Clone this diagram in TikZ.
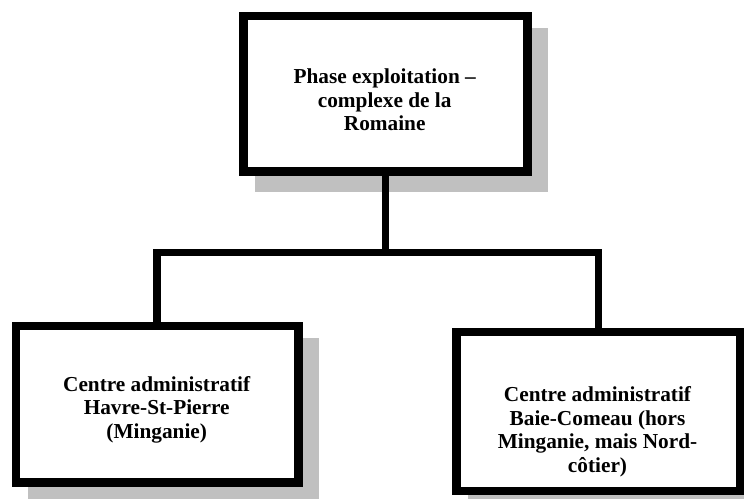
\documentclass[tikz,border=0pt]{standalone}
\usepackage{fontspec}
\setmainfont{Liberation Serif}
\usetikzlibrary{shadows}
\definecolor{shadowgray}{RGB}{192,192,192}
\tikzset{
  orgbox/.style={rectangle, draw=black, fill=white, line width=8.5pt, inner sep=0pt,
    general shadow={draw=shadowgray, fill=shadowgray, opacity=1,
      shadow xshift=16pt, shadow yshift=-16pt}},
  boxtext/.style={align=center, inner sep=0pt,
    font=\fontsize{21.3}{23.5}\selectfont\bfseries},
  link/.style={draw=black, line width=7.5pt, line join=miter},
}
\begin{document}
\begin{tikzpicture}[x=1pt, y=-1pt]
\useasboundingbox (0,0) rectangle (744,498);
\clip (0,0) rectangle (744,498);

% boxes
\node[orgbox, minimum width=284.2pt, minimum height=155.5pt] (top) at (385.4,93.7) {};
\node[orgbox, minimum width=282.5pt, minimum height=156.5pt] (left) at (157.2,404.2) {};
\node[orgbox, minimum width=283.9pt, minimum height=158.8pt] (right) at (598.5,411.4) {};

% box texts
\node[boxtext] (topText) at (384.7,99.8) {Phase exploitation –\\complexe de la\\Romaine};
\node[boxtext] (leftText) at (156.7,409.8) {Centre administratif\\Havre-St-Pierre\\(Minganie)};
\node[boxtext] (rightText) at (597.5,431.8) {Centre administratif\\Baie-Comeau (hors\\Minganie, mais Nord-\\côtier)};

% connectors
\coordinate (bus) at (0,252.5);
\draw[link] (top.south) -- (top.south |- bus);
\draw[link] (left.north) |- (right.north |- bus) -- (right.north);
\end{tikzpicture}
\end{document}
